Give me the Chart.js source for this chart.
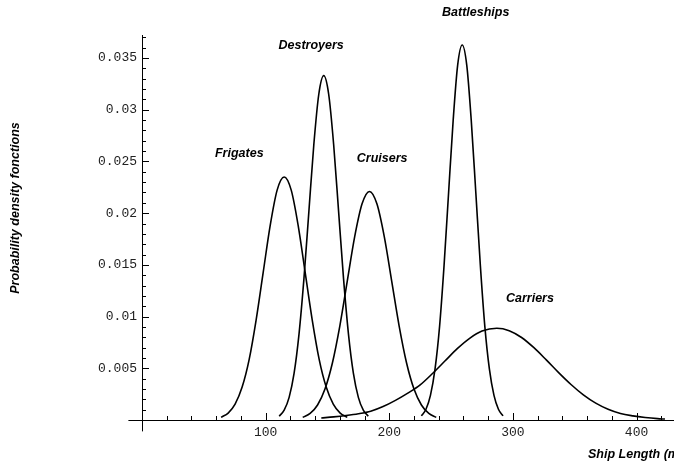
<!DOCTYPE html>
<html>
<head>
<meta charset="utf-8">
<script src="https://cdn.jsdelivr.net/npm/chart.js@4"></script>
<style>
  html, body { margin: 0; padding: 0; background: #fff; }
  canvas { display: block; }
</style>
</head>
<body>
<canvas id="shipChart" width="674" height="467"></canvas>
<script>
// ship classes, in drawing order
const seriesNames = ['Frigates', 'Destroyers', 'Cruisers', 'Battleships', 'Carriers'];

// ship length (m) / density
const frigatesX = [64, 69.7, 75.3, 81, 86.7, 92.3, 98, 103.7, 109.3, 115, 120.7, 126.3, 132, 137.7, 143.3, 149, 154.7, 160.3, 166];
const frigatesY = [0.00026, 0.00067, 0.00154, 0.00318, 0.00586, 0.00966, 0.01425, 0.01882, 0.02223, 0.0235, 0.02223, 0.01882, 0.01425, 0.00966, 0.00586, 0.00318, 0.00154, 0.00067, 0.00026];

const destroyersX = [111, 115, 119, 123, 127, 131, 135, 139, 143, 147, 151, 155, 159, 163, 167, 171, 175, 179, 183];
const destroyersY = [0.00037, 0.00095, 0.00219, 0.00451, 0.00831, 0.01369, 0.0202, 0.02666, 0.0315, 0.0333, 0.0315, 0.02666, 0.0202, 0.01369, 0.00831, 0.00451, 0.00219, 0.00095, 0.00037];

const cruisersX = [130, 136, 142, 148, 154, 160, 166, 172, 178, 184, 190, 196, 202, 208, 214, 220, 226, 232, 238];
const cruisersY = [0.00025, 0.00063, 0.00145, 0.00299, 0.00551, 0.00908, 0.0134, 0.0177, 0.0209, 0.0221, 0.0209, 0.0177, 0.0134, 0.00908, 0.00551, 0.00299, 0.00145, 0.00063, 0.00025];

const battleshipsX = [226, 229.7, 233.3, 237, 240.7, 244.3, 248, 251.7, 255.3, 259, 262.7, 266.3, 270, 273.7, 277.3, 281, 284.7, 288.3, 292];
const battleshipsY = [0.0004, 0.00104, 0.00238, 0.00491, 0.00905, 0.0149, 0.022, 0.029, 0.0343, 0.03627, 0.0343, 0.029, 0.022, 0.0149, 0.00905, 0.00491, 0.00238, 0.00104, 0.0004];

const carriersX = [145, 155, 165, 175, 185, 195, 205, 215, 225, 235, 245, 255, 265, 275, 287, 297, 307, 317, 327, 337, 347, 357, 367, 377, 387, 397, 407, 417, 423];
const carriersY = [0.0002, 0.0003, 0.00043, 0.0006, 0.00085, 0.0013, 0.0019, 0.0026, 0.0034, 0.0045, 0.0057, 0.0069, 0.0079, 0.0086, 0.00887, 0.00864, 0.00798, 0.00699, 0.00581, 0.00458, 0.00343, 0.00243, 0.00163, 0.00104, 0.00063, 0.0004, 0.00024, 0.00013, 0.00009];

// labelled ticks
const xTickLabels = [100, 200, 300, 400];
const yTickLabels = [0.005, 0.01, 0.015, 0.02, 0.025, 0.03, 0.035];

const xTitle = 'Ship Length (m)';
const yTitle = 'Probability density fonctions';

// where the curve names sit, in axis units
const nameAnchors = {
  Frigates: [78.7, 0.0258],
  Destroyers: [136.8, 0.0362],
  Cruisers: [194.2, 0.0253],
  Battleships: [269.9, 0.0394],
  Carriers: [313.8, 0.01175]
};

const allX = [frigatesX, destroyersX, cruisersX, battleshipsX, carriersX];
const allY = [frigatesY, destroyersY, cruisersY, battleshipsY, carriersY];

const labelFont = 'italic bold 12.5px "Liberation Sans", Arial, sans-serif';
const tickFont = { family: '"Liberation Mono", "Courier New", monospace', size: 13 };

const mathematicaAxes = {
  id: 'mathematicaAxes',
  afterDraw(chart) {
    const { ctx, scales: { x, y } } = chart;
    const x0 = x.getPixelForValue(0);
    const y0 = y.getPixelForValue(0);
    ctx.save();
    ctx.strokeStyle = '#000';
    ctx.lineWidth = 1;
    ctx.beginPath();
    // axis stubs past the origin
    ctx.moveTo(x.getPixelForValue(-11), y0 + 0.5);
    ctx.lineTo(x0, y0 + 0.5);
    ctx.moveTo(x0 + 0.5, y0);
    ctx.lineTo(x0 + 0.5, y.getPixelForValue(-0.0011));
    // inward ticks
    x.ticks.forEach(t => {
      if (t.value <= 0) return;
      const px = Math.round(x.getPixelForValue(t.value)) + 0.5;
      const len = xTickLabels.includes(t.value) ? 7 : 4;
      ctx.moveTo(px, y0);
      ctx.lineTo(px, y0 - len);
    });
    y.ticks.forEach(t => {
      if (t.value <= 0) return;
      const py = Math.round(y.getPixelForValue(t.value)) + 0.5;
      const major = Math.round(t.value * 1000) % 5 === 0;
      ctx.moveTo(x0, py);
      ctx.lineTo(x0 + (major ? 7 : 4), py);
    });
    ctx.stroke();

    ctx.fillStyle = '#000';
    ctx.font = labelFont;
    ctx.textBaseline = 'middle';
    ctx.textAlign = 'center';
    seriesNames.forEach(name => {
      const [vx, vy] = nameAnchors[name];
      ctx.fillText(name, x.getPixelForValue(vx), y.getPixelForValue(vy));
    });

    ctx.textAlign = 'left';
    ctx.fillText(xTitle, 588, 455);

    ctx.translate(15.5, 208);
    ctx.rotate(-Math.PI / 2);
    ctx.textAlign = 'center';
    ctx.fillText(yTitle, 0, 0);
    ctx.restore();
  }
};

new Chart(document.getElementById('shipChart'), {
  type: 'line',
  data: {
    datasets: seriesNames.map((name, i) => ({
      label: name,
      data: allX[i].map((v, j) => ({ x: v, y: allY[i][j] })),
      borderColor: '#000',
      borderWidth: 1.6,
      pointRadius: 0,
      fill: false,
      cubicInterpolationMode: 'monotone'
    }))
  },
  options: {
    responsive: false,
    devicePixelRatio: 1,
    animation: false,
    layout: { padding: { top: 35, right: 1, left: 0, bottom: 0 } },
    plugins: { legend: { display: false }, tooltip: { enabled: false } },
    scales: {
      x: {
        type: 'linear',
        min: 0,
        max: 429.5,
        grid: { display: false, drawTicks: false },
        border: { display: true, color: '#000', width: 1 },
        ticks: {
          stepSize: 20,
          includeBounds: false,
          autoSkip: false,
          maxRotation: 0,
          padding: 5,
          color: '#222',
          font: tickFont,
          callback: v => xTickLabels.includes(v) ? String(v) : ''
        },
        afterFit: s => { s.height = 47; }
      },
      y: {
        min: 0,
        max: 0.03723,
        grid: { display: false, drawTicks: false },
        border: { display: true, color: '#000', width: 1 },
        ticks: {
          stepSize: 0.001,
          includeBounds: false,
          autoSkip: false,
          padding: 5,
          color: '#222',
          font: tickFont,
          callback: v => {
            const r = +v.toFixed(3);
            return yTickLabels.includes(r) ? String(r) : '';
          }
        },
        afterFit: s => { s.width = 142; }
      }
    }
  },
  plugins: [mathematicaAxes]
});
</script>
</body>
</html>
